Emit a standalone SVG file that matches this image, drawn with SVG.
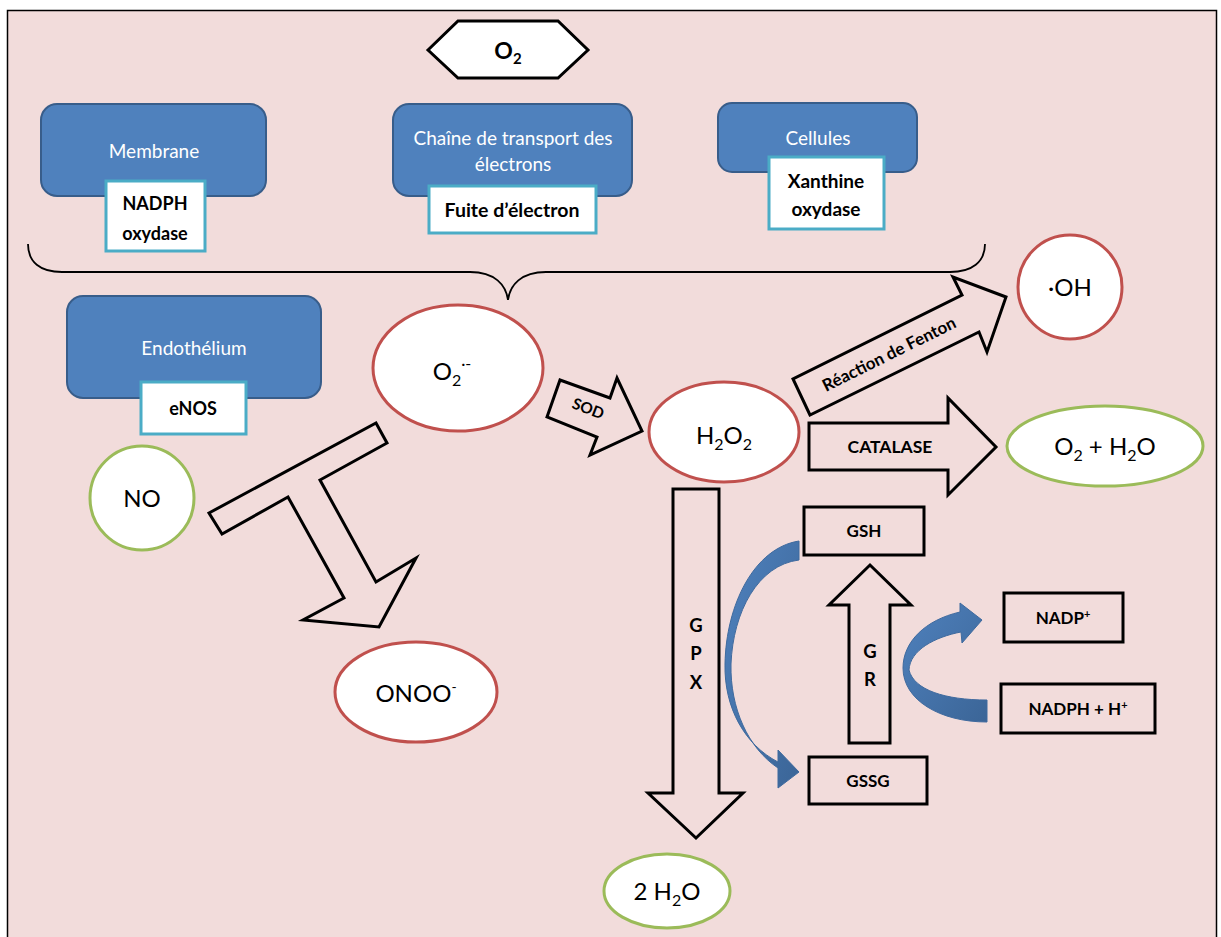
<svg xmlns="http://www.w3.org/2000/svg" width="1221" height="937" viewBox="0 0 1221 937">
<defs>
<style>
.bg{fill:#F2DCDB;stroke:#000;stroke-width:1.5}
.blue{fill:#4F81BD;stroke:#385D8A;stroke-width:2}
.wl{fill:#fff;font-family:Lato,"Liberation Sans",sans-serif;font-size:19px;text-anchor:middle}
.cy{fill:#fff;stroke:#4BACC6;stroke-width:3}
.bt{fill:#000;font-family:Lato,"Liberation Sans",sans-serif;font-weight:bold;font-size:18px;text-anchor:middle}
.red{fill:#fff;stroke:#C0504D;stroke-width:3}
.grn{fill:#fff;stroke:#9BBB59;stroke-width:3}
.lt{fill:#000;font-family:Lato,"Liberation Sans",sans-serif;font-size:24px;text-anchor:middle}
.arr{fill:none;stroke:#000;stroke-width:3;stroke-linejoin:miter}
.box{fill:none;stroke:#000;stroke-width:3}
.curv{fill:url(#cg);stroke:#3F6A9E;stroke-width:1}
</style>
<linearGradient id="cg" x1="0" y1="0" x2="1" y2="1">
<stop offset="0" stop-color="#4F81BD"/>
<stop offset="1" stop-color="#3B6597"/>
</linearGradient>
</defs>
<rect x="7.5" y="10.5" width="1209" height="940" class="bg"/>

<g id="o2-top">
<polygon points="428,50 458,21 558,21 588,50 558,78 458,78" fill="#fff" stroke="#000" stroke-width="3"/>
<text x="508" y="59" class="bt" style="font-size:23px">O<tspan dy="5" font-size="15">2</tspan></text>
</g>

<g id="membrane">
<rect x="41" y="104" width="225" height="92" rx="16" class="blue"/>
<text x="154" y="158" class="wl">Membrane</text>
<rect x="106" y="181" width="99" height="70" class="cy"/>
<text x="155" y="210" class="bt">NADPH</text>
<text x="155" y="240" class="bt">oxydase</text>
</g>

<g id="chaine">
<rect x="393" y="104" width="239" height="92" rx="16" class="blue"/>
<text x="513" y="145" class="wl">Chaîne de transport des</text>
<text x="513" y="171" class="wl">électrons</text>
<rect x="429" y="186" width="167" height="47" class="cy"/>
<text x="512" y="217" class="bt" style="font-size:19.5px">Fuite d’électron</text>
</g>

<g id="cellules">
<rect x="718" y="103" width="199" height="69" rx="14" class="blue"/>
<text x="818" y="145" class="wl">Cellules</text>
<rect x="769" y="157" width="115" height="72" class="cy"/>
<text x="826" y="188" class="bt" style="font-size:19px">Xanthine</text>
<text x="826" y="216" class="bt" style="font-size:19px">oxydase</text>
</g>

<g id="connectors">
<path d="M28,244 C28,262 40,272 62,272 L470,272 C495,272 506,285 508,300 C510,285 521,272 546,272 L950,272 C972,272 985,262 985,244" fill="none" stroke="#000" stroke-width="1.8"/>
<polygon id="t-arrow" class="arr" points="222,534 209,513 376,423 387,443 320,480 376,582 416,558 379,627 303,620 344,598 288,497"/>
<polygon id="sod-arrow" class="arr" points="547,417 560,380 610,398 617,378 642,431 590,455 597,437"/>
<text x="588" y="414" class="bt" style="font-size:15.5px" transform="rotate(21 588 409)">SOD</text>
<polygon id="fenton-arrow" class="arr" points="810,415 793,379 962,295 953,277 1006,297 987,352 979,332"/>
<text x="889" y="360" class="bt" style="font-size:17px" transform="rotate(-26.4 889 354)">Réaction de Fenton</text>
<polygon id="catalase-arrow" class="arr" points="809,423 948,423 948,398 996,447 948,495 948,470 809,470"/>
<text x="890" y="453" class="bt" style="font-size:17.5px">CATALASE</text>
<polygon id="gpx-arrow" class="arr" points="673,489 719,489 719,793 743,793 696,838 648,793 673,793"/>
<text x="696" y="632" class="bt" style="font-size:18.5px">G</text>
<text x="696" y="660" class="bt" style="font-size:18.5px">P</text>
<text x="696" y="689" class="bt" style="font-size:18.5px">X</text>
<polygon id="gr-arrow" class="arr" points="849,743 890,743 890,605 911,605 870,565 829,605 849,605"/>
<text x="870" y="658" class="bt" style="font-size:18.5px">G</text>
<text x="870" y="686" class="bt" style="font-size:18.5px">R</text>
<path id="gpx-curve" class="curv" d="M799,541 L799,560 C758,565 733,612 731,664 C730,708 748,748 778,768 L778,788 L799,772 L778,750 L778,762 C745,745 724,708 725,664 C726,605 754,548 799,541 Z"/>
<path id="gr-curve" class="curv" d="M987,722 L987,700 C945,700 914,690 909,670 C910,650 935,637 961,632 L962,643 L982,620 L960,603 L960,612 C925,620 903,642 903,668 C903,700 940,722 987,722 Z"/>
</g>

<g id="endothelium">
<rect x="67" y="296" width="254" height="102" rx="16" class="blue"/>
<text x="194" y="355" class="wl">Endothélium</text>
<rect x="141" y="382" width="105" height="52" class="cy"/>
<text x="193" y="415" class="bt">eNOS</text>
</g>

<g id="no">
<circle cx="142" cy="498" r="52" class="grn"/>
<text x="142" y="507" class="lt">NO</text>
</g>

<g id="superoxide">
<ellipse cx="458" cy="368" rx="85" ry="63" class="red"/>
<text x="452" y="380" class="lt">O<tspan dy="6" font-size="16">2</tspan><tspan dy="-17" font-size="16">·-</tspan></text>
</g>

<g id="h2o2">
<ellipse cx="724" cy="432" rx="75" ry="50" class="red"/>
<text x="724" y="444" class="lt">H<tspan dy="6" font-size="16">2</tspan><tspan dy="-6">O</tspan><tspan dy="6" font-size="16">2</tspan></text>
</g>

<g id="oh">
<circle cx="1070" cy="287" r="52" class="red"/>
<text x="1070" y="296" class="lt">·OH</text>
</g>

<g id="o2-h2o">
<ellipse cx="1105" cy="446" rx="98" ry="40" class="grn"/>
<text x="1105" y="455" class="lt">O<tspan dy="6" font-size="16">2</tspan><tspan dy="-6"> + H</tspan><tspan dy="6" font-size="16">2</tspan><tspan dy="-6">O</tspan></text>
</g>

<g id="onoo">
<ellipse cx="416" cy="692" rx="81" ry="50" class="red"/>
<text x="416" y="702" class="lt">ONOO<tspan dy="-10" font-size="14">-</tspan></text>
</g>

<g id="gsh">
<rect x="804" y="507" width="120" height="48" class="box"/>
<text x="864" y="537" class="bt" style="font-size:17px">GSH</text>
</g>

<g id="gssg">
<rect x="809" y="757" width="118" height="47" class="box"/>
<text x="868" y="787" class="bt" style="font-size:17px">GSSG</text>
</g>

<g id="nadp">
<rect x="1004" y="593" width="119" height="49" class="box"/>
<text x="1063" y="624" class="bt" style="font-size:17px">NADP<tspan dy="-6" font-size="11">+</tspan></text>
</g>

<g id="nadph">
<rect x="1001" y="684" width="154" height="49" class="box"/>
<text x="1078" y="715" class="bt" style="font-size:17px">NADPH + H<tspan dy="-6" font-size="11">+</tspan></text>
</g>

<g id="h2o-2">
<ellipse cx="667" cy="891" rx="63" ry="37" class="grn"/>
<text x="667" y="900" class="lt">2 H<tspan dy="6" font-size="16">2</tspan><tspan dy="-6">O</tspan></text>
</g>
</svg>
